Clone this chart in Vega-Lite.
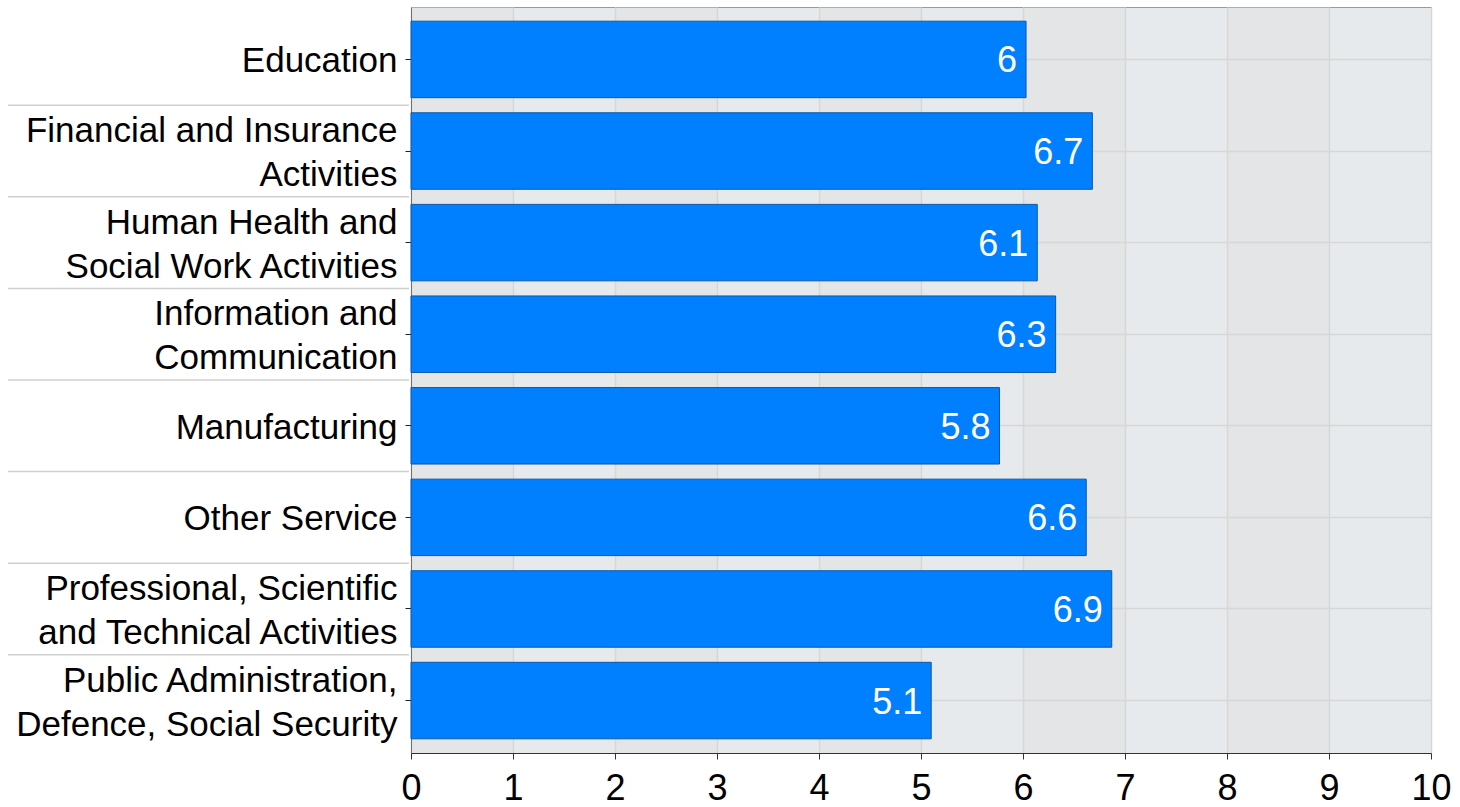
{
  "$schema": "https://vega.github.io/schema/vega-lite/v6.json",
  "width": 1020,
  "height": 746,
  "autosize": {"type": "none"},
  "padding": {"left": 411, "top": 7, "right": 29, "bottom": 54},
  "background": "white",
  "config": {
    "font": "Liberation Sans",
    "view": {"fill": "#e7eaed", "stroke": "#9a9a9a", "strokeWidth": 1}
  },
  "datasets": {
    "main": [
      {"industry": "Education", "value": 6.03},
      {"industry": "Financial and Insurance|Activities", "value": 6.68},
      {"industry": "Human Health and|Social Work Activities", "value": 6.14},
      {"industry": "Information and|Communication", "value": 6.32},
      {"industry": "Manufacturing", "value": 5.77},
      {"industry": "Other Service", "value": 6.62},
      {"industry": "Professional, Scientific|and Technical Activities", "value": 6.87},
      {"industry": "Public Administration,|Defence, Social Security", "value": 5.1}
    ],
    "bands": [
      {"start": 0, "end": 1},
      {"start": 2, "end": 3},
      {"start": 4, "end": 5},
      {"start": 6, "end": 7},
      {"start": 8, "end": 9}
    ]
  },
  "layer": [
    {
      "data": {"name": "bands"},
      "mark": {"type": "rect", "fill": "#dcd9d6", "opacity": 0.3},
      "encoding": {
        "x": {"field": "start", "type": "quantitative", "scale": {"domain": [0, 10], "nice": false}},
        "x2": {"field": "end"}
      }
    },
    {
      "data": {"name": "main"},
      "mark": {"type": "bar", "fill": "#0080ff", "stroke": "#0b57a8", "strokeWidth": 1},
      "encoding": {
        "y": {
          "field": "industry",
          "type": "nominal",
          "sort": null,
          "scale": {"paddingInner": 0.165, "paddingOuter": 0.155},
          "axis": {
            "title": null,
            "labelFontSize": 35,
            "labelColor": "#000000",
            "labelLineHeight": 44,
            "labelPadding": 8,
            "labelLimit": 0,
            "labelOffset": {"condition": {"test": "indexof(datum.value, '|') >= 0", "value": -20}, "value": 2},
            "tickSize": 6,
            "tickColor": "#222222",
            "domainColor": "#444444",
            "grid": true,
            "gridColor": "#d6d6d6",
            "gridWidth": 1.5,
            "labelExpr": "split(datum.value, '|')"
          }
        },
        "x": {
          "field": "value",
          "type": "quantitative",
          "scale": {"domain": [0, 10], "nice": false},
          "axis": {
            "title": null,
            "values": [0, 1, 2, 3, 4, 5, 6, 7, 8, 9, 10],
            "format": "d",
            "labelFontSize": 36,
            "labelColor": "#000000",
            "labelFlush": false,
            "labelOverlap": false,
            "labelPadding": 12,
            "tickSize": 6,
            "tickColor": "#333333",
            "domainColor": "#333333",
            "grid": true,
            "gridColor": "#d6d6d6",
            "gridWidth": 1.5
          }
        }
      }
    },
    {
      "data": {"name": "main"},
      "mark": {"type": "text", "align": "right", "baseline": "middle", "dx": -9, "dy": 2, "color": "white", "fontSize": 36},
      "encoding": {
        "y": {"field": "industry", "type": "nominal", "sort": null},
        "x": {"field": "value", "type": "quantitative"},
        "text": {"field": "value", "type": "quantitative", "format": ".2~r"}
      }
    },
    {
      "data": {"name": "main"},
      "transform": [{"filter": "datum.industry != 'Education'"}],
      "mark": {"type": "rule", "color": "#cfcfcf", "strokeWidth": 1.5},
      "encoding": {
        "y": {"field": "industry", "type": "nominal", "sort": null, "bandPosition": -0.099},
        "x": {"datum": -3.95},
        "x2": {"datum": -0.02}
      }
    }
  ]
}
